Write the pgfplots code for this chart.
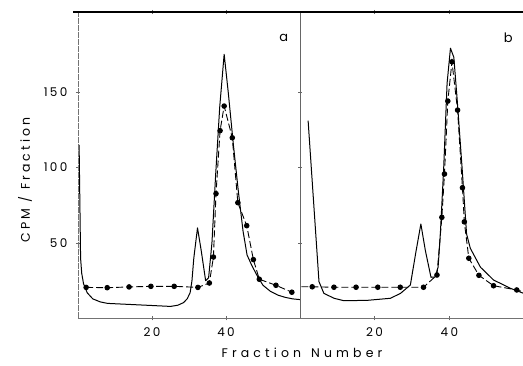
\documentclass[border=0pt]{standalone}
\usepackage{fontspec}
\setmainfont{Poppins}[LetterSpace=20]
\usepackage{pgfplots}
\pgfplotsset{compat=1.18}
\pgfplotstableread{
f v
0.3 115
0.7 40
1 30
1.5 23
2.5 17
4 13
6 11
8 10
14 9.3
20 8.6
25 8
27 8.8
28.5 10.5
29.5 13
30.3 17
30.8 25
31.3 40
32.3 60
33.3 45
34.5 25
35.3 27
36.2 50
37.2 95
38.3 140
39.5 175
40.6 150
42 115
43.3 85
44.6 58
45.7 42
47 35
48.5 28
50 22
52 18
54 15.5
56 14
58 13
60 12.5
}\solidA
\pgfplotstableread{
f v
2.2 20.6
7.9 20.4
13.8 20.9
19.7 21.3
26 21.3
32.4 20.6
35.5 23.5
36.6 40.7
37.3 82.7
38.4 124.4
39.5 140.7
41.7 119.7
43.2 76.7
45.6 61.5
47.4 39
49 26
53.5 22
57.8 17.4
}\dotsA
\pgfplotstableread{
f v
2.3 131
5.2 24.4
6.5 16.7
9.2 13.4
11.8 11.8
18 12
24.3 13.4
27 16.7
29.6 22.2
31 43
32.4 62.6
33.6 45
35.1 27.3
36.2 27.5
37 34
37.6 56
38.5 100
39.4 155.8
40.3 179
41.2 173
42.1 144.7
43.4 100
44.6 56
45.6 46.5
48.3 34
51.8 25.5
56.3 20
60 16.5
}\solidB
\pgfplotstableread{
f v
0.5 21
3.4 21
9.2 20.7
15.1 20.7
20.9 20.7
26.9 20.7
33.1 20.7
36.7 28.8
38 67
38.7 95.7
39.6 144
40.7 170
42.2 138
43.5 86.6
44 64
45.2 39.9
47.9 28.6
51.8 21.7
58 18.9
60 17.5
}\dotsB
\pgfplotsset{
  panel/.style={
    scale only axis, height=306.5pt, anchor=south west,
    ymin=0, ymax=203, xmin=0,
    axis line style={draw=none},
    xtick={20,40}, xticklabels={20,40},
    tick style={black!60, thin},
    major tick length=4pt, tick align=center,
    /pgf/number format/assume math mode=true,
    tick label style={font=\fontsize{12}{14}\selectfont},
    xticklabel style={yshift=-4pt},
  },
  solidline/.style={black, line width=1pt, no marks, line join=round},
  dotline/.style={black, line width=0.9pt, dash pattern=on 7pt off 3pt, mark=*, mark size=2.3pt, mark options={solid, fill=black}},
}
\begin{document}
\begin{tikzpicture}[x=1pt,y=1pt]
\useasboundingbox (0pt,0pt) rectangle (523pt,366pt);
% axis a
\begin{axis}[panel, at={(78pt,47.5pt)}, width=222pt, xmax=60,
  ytick={50,100,150}, yticklabel style={xshift=-5pt}]
  \addplot[solidline] table[x=f,y=v] {\solidA};
  \addplot[dotline] table[x=f,y=v] {\dotsA};
  \draw[black!55, thin, dash pattern=on 6pt off 1pt] (axis cs:0,0) -- (axis cs:0,203);
  \draw[black!55, thin] (axis cs:0,0) -- (axis cs:60,0);
  \node[font=\fontsize{13}{15}\selectfont] at (axis cs:55.6,186) {a};
\end{axis}
% axis b
\begin{axis}[panel, at={(299.5pt,47.5pt)}, width=224pt, xmax=59.8, ytick=\empty]
  \addplot[solidline] table[x=f,y=v] {\solidB};
  \addplot[dotline, mark indices={2,...,19}] table[x=f,y=v] {\dotsB};
  \draw[black!55, thin] (axis cs:0,0) -- (axis cs:59.8,0);
  \node[font=\fontsize{13}{15}\selectfont] at (axis cs:55.7,186) {b};
\end{axis}
\draw[black!60, thin] (300pt,47.5pt) -- (300pt,354pt);
\draw[black, line width=1.2pt] (73pt,354pt) -- (523pt,354pt);
\node[font=\fontsize{12.5}{14}\selectfont\addfontfeatures{LetterSpace=33}] at (302pt,13pt) {Fraction\hspace{10pt}Number};
\node[rotate=90, font=\fontsize{12.5}{14}\selectfont\addfontfeatures{LetterSpace=25}] at (25pt,186pt) {CPM / Fraction};
\end{tikzpicture}
\end{document}
